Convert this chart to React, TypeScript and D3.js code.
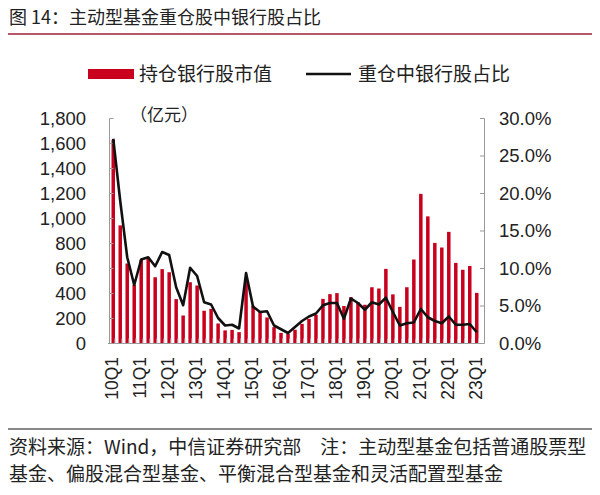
import * as d3 from "d3";

const quarters = [
  "10Q1", "10Q2", "10Q3", "10Q4", "11Q1", "11Q2", "11Q3", "11Q4",
  "12Q1", "12Q2", "12Q3", "12Q4", "13Q1", "13Q2", "13Q3", "13Q4",
  "14Q1", "14Q2", "14Q3", "14Q4", "15Q1", "15Q2", "15Q3", "15Q4",
  "16Q1", "16Q2", "16Q3", "16Q4", "17Q1", "17Q2", "17Q3", "17Q4",
  "18Q1", "18Q2", "18Q3", "18Q4", "19Q1", "19Q2", "19Q3", "19Q4",
  "20Q1", "20Q2", "20Q3", "20Q4", "21Q1", "21Q2", "21Q3", "21Q4",
  "22Q1", "22Q2", "22Q3", "22Q4", "23Q1",
];

// 持仓银行股市值（亿元）
const holdingValue = [
  1630, 945, 640, 470, 670, 690, 530, 595,
  570, 355, 224, 490, 464, 262, 277, 160,
  105, 109, 91, 500, 302, 255, 208, 131,
  85, 77, 110, 157, 197, 230, 357, 395,
  403, 300, 371, 331, 310, 450, 440, 597,
  393, 293, 450, 672, 1197, 1017, 805, 768,
  893, 645, 590, 620, 405,
];

// 重仓中银行股占比（%）
const bankShare = [
  27.3, 19.0, 11.5, 7.8, 11.2, 11.5, 10.3, 12.2,
  11.8, 7.5, 5.1, 10.1, 9.0, 5.5, 5.2, 3.4,
  2.4, 2.5, 2.0, 9.4, 4.9, 4.2, 4.3, 2.4,
  1.9, 1.4, 2.2, 3.0, 3.6, 4.0, 5.1, 5.4,
  5.4, 3.3, 6.0, 5.4, 4.5, 5.5, 5.2, 6.1,
  4.2, 2.4, 2.7, 2.8, 4.6, 3.5, 3.0, 2.7,
  3.6, 2.5, 2.5, 2.6, 1.5,
];

const leftTicks = [0, 200, 400, 600, 800, 1000, 1200, 1400, 1600, 1800];
const rightTicks = [0, 5, 10, 15, 20, 25, 30];

const W = 600;
const H = 495;
const FONT = "'Liberation Sans', Arial, 'Noto Sans CJK SC', sans-serif";
const CJK = "'Noto Sans CJK SC', 'Liberation Sans', sans-serif";
const BAR = "#c8001e";

export default function App() {
  const x = d3.scaleBand<string>().domain(quarters).range([108, 482]).padding(0.5);
  const yL = d3.scaleLinear().domain([0, 1800]).range([343.5, 118.5]);
  const yR = d3.scaleLinear().domain([0, 30]).range([343.5, 118.5]);
  const cx = (q: string) => (x(q) ?? 0) + x.bandwidth() / 2;

  const line = d3
    .line<number>()
    .x((_, i) => cx(quarters[i]))
    .y((d) => yR(d));

  const fmt = d3.format(",");
  const step = x.step();

  return (
    <svg
      width={W}
      height={H}
      style={{ position: "absolute", left: 0, top: 0, background: "#fff" }}
    >
      {/* title */}
      <text x={9} y={24} fontFamily={CJK} fontSize={18} fill="#222">
        图 14：主动型基金重仓股中银行股占比
      </text>
      <line x1={8} x2={592} y1={34} y2={34} stroke="#9a2236" strokeWidth={1.5} />

      {/* legend */}
      <rect x={88} y={69} width={46} height={10} fill={BAR} />
      <text x={139} y={81} fontFamily={CJK} fontSize={19} fill="#222">
        持仓银行股市值
      </text>
      <line x1={306} x2={351} y1={74} y2={74} stroke="#111" strokeWidth={2.5} />
      <text x={358} y={81} fontFamily={CJK} fontSize={19} fill="#222">
        重仓中银行股占比
      </text>

      <text x={130} y={121} fontFamily={CJK} fontSize={17} fill="#222">
        （亿元）
      </text>

      {/* bars */}
      {quarters.map((q, i) => (
        <rect
          key={q}
          x={x(q)}
          y={yL(holdingValue[i])}
          width={x.bandwidth()}
          height={yL(0) - yL(holdingValue[i])}
          fill={BAR}
        />
      ))}

      {/* x axis with a tick between every category */}
      <line x1={108} x2={484} y1={yL(0)} y2={yL(0)} stroke="#999" />
      {quarters.map((q) => (
        <line
          key={"t" + q}
          x1={(x(q) ?? 0) - x.paddingOuter() * step + step}
          x2={(x(q) ?? 0) - x.paddingOuter() * step + step}
          y1={yL(0)}
          y2={yL(0) - 5}
          stroke="#bbb"
        />
      ))}
      {quarters.map((q, i) =>
        i % 4 === 0 ? (
          <text
            key={"l" + q}
            transform={`translate(${cx(q) + 5},357) rotate(-90)`}
            textAnchor="end"
            fontFamily={FONT}
            fontSize={17.5}
            fill="#222"
          >
            {q}
          </text>
        ) : null
      )}

      {/* left axis */}
      <line x1={109.5} x2={109.5} y1={yL(1800)} y2={yL(0)} stroke="#999" />
      {leftTicks.map((t) => (
        <g key={"yl" + t}>
          <line x1={109.5} x2={113.5} y1={yL(t)} y2={yL(t)} stroke="#999" />
          <text
            x={86}
            y={yL(t) + 6}
            textAnchor="end"
            fontFamily={FONT}
            fontSize={18.5}
            fill="#222"
          >
            {fmt(t)}
          </text>
        </g>
      ))}

      {/* right axis */}
      <line x1={484.5} x2={484.5} y1={yR(30)} y2={yR(0)} stroke="#999" />
      {rightTicks.map((t) => (
        <g key={"yr" + t}>
          <line x1={480} x2={484.5} y1={yR(t)} y2={yR(t)} stroke="#999" />
          <text
            x={499}
            y={yR(t) + 6}
            fontFamily={FONT}
            fontSize={18.5}
            fill="#222"
          >
            {t.toFixed(1) + "%"}
          </text>
        </g>
      ))}

      {/* share line */}
      <path
        d={line(bankShare) ?? ""}
        fill="none"
        stroke="#111"
        strokeWidth={2.6}
        strokeLinejoin="round"
      />

      {/* footer */}
      <line x1={8} x2={592} y1={429} y2={429} stroke="#888" strokeWidth={2} />
      <text x={9} y={454} fontFamily={CJK} fontSize={19} fill="#222">
        资料来源：Wind，中信证券研究部　注：主动型基金包括普通股票型
      </text>
      <text x={9} y={481} fontFamily={CJK} fontSize={19} fill="#222">
        基金、偏股混合型基金、平衡混合型基金和灵活配置型基金
      </text>
    </svg>
  );
}
